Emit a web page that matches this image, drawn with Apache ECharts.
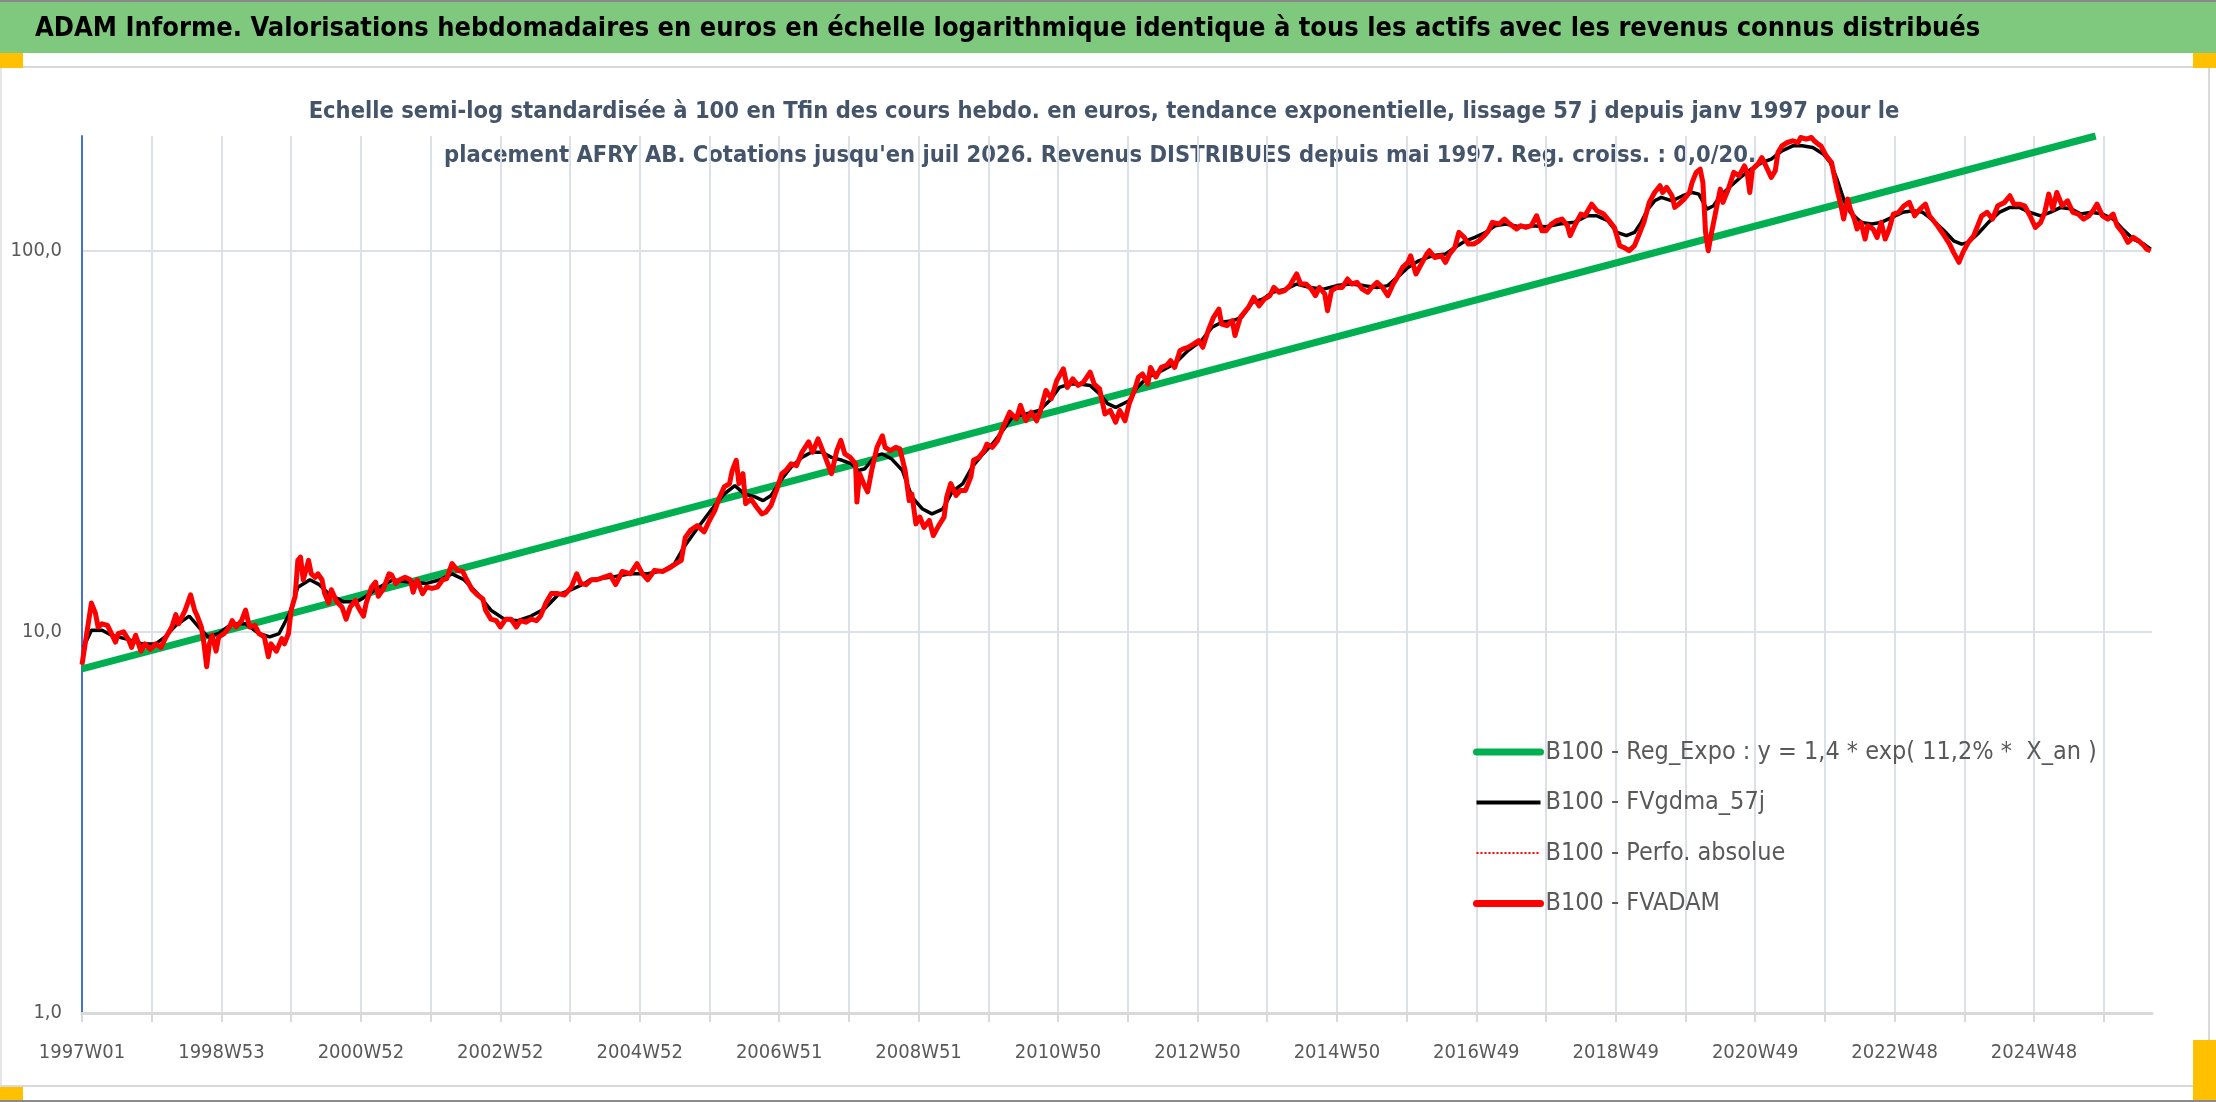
<!DOCTYPE html>
<html>
<head>
<meta charset="utf-8">
<title>ADAM Informe - AFRY AB</title>
<script src="https://cdn.jsdelivr.net/npm/echarts@6/dist/echarts.min.js"></script>
<style>
  html, body { margin: 0; padding: 0; background: #fff; }
  #chart { width: 2216px; height: 1102px; }
</style>
</head>
<body>
<div id="chart"></div>
<script>
var FONT = "'Liberation Sans Narrow', 'DejaVu Sans Condensed', 'Liberation Sans', sans-serif";

var TITLE = "ADAM Informe. Valorisations hebdomadaires en euros en échelle logarithmique identique à tous les actifs avec les revenus connus distribués";
var SUBTITLE_1 = "Echelle semi-log standardisée à 100 en Tfin des cours hebdo. en euros, tendance exponentielle, lissage 57 j depuis janv 1997 pour le";
var SUBTITLE_2 = "placement AFRY AB. Cotations jusqu'en juil 2026. Revenus DISTRIBUES depuis mai 1997. Reg. croiss. : 0,0/20.";

var NAMES = [
  "B100 - Reg_Expo : y = 1,4 * exp( 11,2% *  X_an )",
  "B100 - FVgdma_57j",
  "B100 - Perfo. absolue",
  "B100 - FVADAM"
];

// x = week index since 1997W01, one label every 104 weeks
var TICK_LABELS = ["1997W01", "1998W53", "2000W52", "2002W52", "2004W52", "2006W51", "2008W51",
  "2010W50", "2012W50", "2014W50", "2016W49", "2018W49", "2020W49", "2022W48", "2024W48"];
var LAST_WEEK = 1544;
var Y_LABELS = [1, 10, 100];

// regression line, read at its two visible ends
var REG_EXPO = [[0, 8.0], [1502, 200]];

// smoothed valuation (black)
var FVGDMA = [
  [1, 9.1], [7, 10.1], [15, 10.1], [22, 9.8], [32, 9.6], [45, 9.3], [55, 9.3], [62, 9.7], [70, 10.4],
  [80, 11.0], [87, 10.3], [94, 9.7], [102, 9.9], [112, 10.5], [122, 10.5], [132, 9.9], [140, 9.7],
  [147, 9.9], [155, 11.2], [161, 13.1], [170, 13.7], [177, 13.3], [185, 12.5], [195, 12.0], [205, 12.0],
  [212, 12.4], [220, 13.0], [232, 13.7], [245, 13.5], [257, 13.4], [267, 13.7], [276, 14.2], [285, 13.7],
  [295, 12.6], [305, 11.4], [315, 10.8], [325, 10.7], [335, 11.0], [345, 11.5], [355, 12.5], [365, 12.9],
  [375, 13.4], [379, 13.7], [394, 13.9], [409, 14.2], [422, 14.2], [434, 14.5], [442, 15.1], [449, 16.7],
  [459, 18.7], [469, 20.8], [479, 23.0], [487, 24.2], [494, 23.0], [502, 22.6], [508, 22.1], [514, 22.8],
  [522, 25.2], [529, 27.1], [537, 28.7], [544, 29.6], [552, 29.6], [559, 28.7], [567, 28.2], [574, 27.6],
  [579, 26.5], [584, 26.8], [592, 29.0], [597, 29.3], [604, 28.4], [612, 26.5], [619, 22.6], [627, 21.0],
  [634, 20.4], [642, 21.0], [649, 23.3], [657, 24.5], [664, 27.1], [672, 29.3], [679, 31.1], [687, 33.8],
  [694, 36.6], [704, 37.3], [714, 38.1], [722, 40.5], [729, 43.8], [737, 44.7], [744, 44.7], [752, 44.3],
  [759, 42.1], [765, 39.7], [771, 38.8], [781, 40.4], [787, 43.8], [795, 46.6], [805, 48.4], [815, 50.5],
  [825, 54.7], [835, 58.1], [843, 63.0], [850, 64.9], [858, 65.5], [865, 66.9], [873, 73.2], [881, 74.7],
  [888, 77.8], [898, 79.3], [906, 81.8], [916, 80.1], [926, 79.3], [936, 81.0], [946, 81.8], [956, 81.0],
  [966, 80.1], [974, 81.0], [981, 85.1], [989, 90.4], [997, 94.1], [1007, 97.0], [1017, 98.0], [1024, 102.0],
  [1032, 106.2], [1039, 108.4], [1047, 111.7], [1054, 116.3], [1062, 117.5], [1072, 115.6], [1082, 116.3],
  [1092, 115.6], [1102, 117.5], [1113, 118.7], [1123, 123.5], [1130, 123.5], [1138, 119.9], [1145, 111.7],
  [1152, 109.5], [1158, 111.7], [1163, 118.7], [1168, 128.6], [1173, 135.2], [1178, 138.0], [1186, 135.2],
  [1194, 139.4], [1201, 142.2], [1206, 140.8], [1212, 128.6], [1217, 131.2], [1222, 139.4], [1230, 148.1],
  [1237, 155.7], [1245, 163.7], [1253, 170.4], [1260, 173.9], [1268, 182.9], [1276, 188.5], [1283, 188.5],
  [1291, 186.6], [1299, 179.2], [1304, 170.4], [1309, 154.1], [1314, 136.6], [1319, 126.1], [1327, 118.7],
  [1335, 117.5], [1342, 118.7], [1350, 122.3], [1358, 126.1], [1366, 127.3], [1373, 126.1], [1381, 119.9],
  [1389, 112.8], [1396, 106.2], [1402, 104.1], [1407, 105.2], [1414, 110.6], [1422, 118.7], [1430, 126.1],
  [1438, 129.9], [1445, 129.9], [1453, 126.1], [1461, 123.5], [1468, 126.1], [1476, 129.9], [1484, 128.6],
  [1491, 124.8], [1499, 126.1], [1507, 124.8], [1515, 121.1], [1522, 114.0], [1530, 107.3], [1538, 104.1],
  [1543, 101.0]
];

// weekly valuation (red), also under the dotted absolute perf
var FVADAM = [
  [0, 8.2], [7, 11.9], [10, 11.2], [12, 10.3], [15, 10.5], [19, 10.4], [22, 9.9], [25, 9.4], [27, 9.9],
  [31, 10.0], [35, 9.5], [37, 9.1], [40, 9.8], [44, 8.9], [47, 9.3], [51, 9.0], [55, 9.3], [59, 9.1],
  [62, 9.6], [67, 10.3], [70, 11.1], [72, 10.5], [77, 11.4], [81, 12.5], [84, 11.4], [86, 11.0], [89, 10.3],
  [91, 9.3], [93, 8.1], [95, 9.3], [97, 9.8], [100, 8.9], [102, 9.7], [106, 9.9], [110, 10.3], [112, 10.7],
  [115, 10.3], [119, 10.7], [122, 11.4], [125, 10.3], [129, 10.4], [132, 9.9], [136, 9.7], [139, 8.6],
  [141, 9.3], [145, 8.9], [149, 9.6], [151, 9.3], [154, 9.9], [156, 11.4], [159, 12.4], [161, 15.4],
  [163, 15.7], [165, 13.7], [167, 14.5], [169, 15.4], [171, 14.2], [174, 13.9], [176, 14.2], [179, 13.7],
  [181, 12.6], [184, 11.9], [186, 12.9], [190, 12.0], [194, 11.6], [197, 10.8], [200, 11.6], [204, 12.1],
  [206, 11.6], [210, 11.0], [212, 11.9], [216, 13.1], [219, 13.5], [221, 12.4], [225, 13.0], [229, 14.2],
  [231, 14.1], [234, 13.4], [237, 13.7], [241, 13.9], [245, 13.7], [247, 12.7], [250, 13.7], [254, 12.6],
  [257, 13.1], [261, 13.0], [265, 13.1], [269, 13.7], [272, 13.8], [276, 15.1], [280, 14.5], [284, 14.4],
  [287, 13.7], [291, 12.9], [295, 12.5], [299, 12.2], [301, 11.4], [305, 10.8], [309, 10.7], [312, 10.3],
  [316, 10.8], [320, 10.8], [324, 10.3], [327, 10.7], [331, 10.6], [335, 10.8], [339, 10.7], [342, 11.0],
  [346, 11.9], [350, 12.6], [355, 12.6], [360, 12.5], [365, 13.1], [369, 14.2], [372, 13.4], [376, 13.3],
  [380, 13.7], [384, 13.7], [389, 13.9], [394, 14.1], [398, 13.3], [403, 14.4], [409, 14.2], [414, 15.1],
  [418, 14.2], [422, 13.7], [427, 14.5], [433, 14.4], [438, 14.7], [443, 15.1], [447, 15.4], [450, 17.7],
  [454, 18.5], [459, 19.0], [464, 18.3], [468, 19.6], [472, 20.8], [475, 22.3], [479, 24.0], [483, 24.5],
  [485, 26.5], [488, 28.2], [490, 24.5], [493, 26.0], [495, 21.7], [499, 22.3], [503, 21.3], [507, 20.4],
  [510, 20.6], [514, 21.5], [518, 23.5], [522, 26.0], [525, 26.5], [529, 27.6], [533, 27.3], [537, 29.6],
  [542, 31.5], [545, 29.6], [549, 32.1], [554, 29.0], [559, 26.0], [563, 29.9], [566, 31.8], [569, 29.3],
  [573, 28.7], [577, 27.6], [578, 21.9], [580, 26.0], [583, 24.5], [586, 23.3], [589, 26.5], [593, 30.5],
  [597, 32.7], [599, 30.5], [603, 29.9], [607, 30.5], [610, 30.2], [614, 26.5], [617, 22.1], [619, 23.0],
  [622, 19.2], [625, 20.0], [628, 18.8], [632, 19.6], [635, 17.9], [639, 19.0], [643, 20.0], [645, 22.6],
  [648, 24.5], [652, 22.8], [655, 23.5], [659, 23.5], [663, 25.5], [665, 28.2], [669, 28.7], [673, 29.9],
  [675, 31.1], [679, 30.5], [683, 31.8], [687, 34.4], [692, 37.7], [697, 36.2], [700, 39.3], [704, 35.8],
  [708, 37.7], [712, 35.8], [715, 38.1], [719, 43.0], [723, 40.9], [727, 45.6], [732, 49.0], [735, 43.8],
  [739, 46.1], [743, 44.3], [747, 45.2], [752, 48.0], [755, 44.7], [759, 43.4], [763, 37.3], [767, 38.1],
  [771, 35.5], [774, 38.1], [778, 35.8], [781, 39.6], [785, 43.0], [788, 46.6], [791, 47.5], [795, 44.7],
  [797, 49.4], [801, 46.6], [805, 49.4], [809, 50.0], [812, 51.5], [815, 49.4], [819, 54.7], [821, 55.2],
  [825, 55.8], [829, 56.9], [833, 58.1], [836, 55.8], [840, 61.7], [844, 66.9], [848, 70.3], [850, 64.2],
  [854, 63.6], [858, 65.5], [860, 59.9], [864, 66.9], [867, 68.9], [870, 71.0], [874, 75.4], [878, 71.7],
  [882, 74.7], [886, 76.2], [889, 80.1], [893, 77.8], [897, 78.6], [901, 81.0], [903, 83.4], [906, 86.9],
  [909, 81.8], [913, 81.8], [917, 79.3], [920, 76.2], [923, 80.1], [927, 77.0], [929, 69.6], [932, 78.6],
  [936, 80.1], [940, 80.1], [944, 84.3], [947, 81.8], [951, 82.6], [955, 79.3], [959, 77.8], [962, 80.1],
  [966, 82.6], [970, 80.1], [974, 76.2], [978, 81.8], [981, 85.1], [985, 90.4], [989, 93.2], [991, 97.0],
  [995, 86.9], [999, 92.3], [1003, 98.0], [1005, 100.0], [1009, 96.0], [1014, 97.0], [1017, 93.2],
  [1020, 98.0], [1024, 102.0], [1027, 111.7], [1031, 108.4], [1034, 104.1], [1038, 104.1], [1042, 106.2],
  [1046, 109.5], [1049, 112.8], [1052, 118.7], [1057, 117.5], [1061, 121.1], [1065, 117.5], [1070, 114.0],
  [1073, 116.3], [1077, 115.1], [1081, 116.3], [1085, 123.5], [1089, 112.8], [1092, 112.8], [1096, 117.5],
  [1100, 119.9], [1104, 121.1], [1108, 116.3], [1110, 109.5], [1114, 117.5], [1118, 124.8], [1121, 123.5],
  [1126, 132.5], [1130, 127.3], [1135, 124.8], [1139, 119.9], [1143, 115.1], [1147, 103.1], [1150, 102.0],
  [1154, 100.0], [1158, 103.1], [1161, 109.5], [1165, 118.7], [1169, 133.9], [1173, 142.2], [1177, 148.1],
  [1179, 142.2], [1182, 146.6], [1186, 139.4], [1188, 129.9], [1191, 132.5], [1195, 136.6], [1199, 142.2],
  [1201, 151.1], [1204, 160.5], [1207, 163.7], [1209, 151.1], [1211, 111.7], [1213, 100.0], [1215, 109.5],
  [1218, 123.5], [1222, 145.1], [1224, 133.9], [1228, 145.1], [1232, 160.5], [1236, 157.3], [1240, 167.0],
  [1242, 160.5], [1244, 142.2], [1246, 163.7], [1250, 168.7], [1253, 175.6], [1256, 167.0], [1260, 155.7],
  [1263, 162.1], [1265, 181.1], [1268, 188.5], [1272, 192.3], [1276, 194.3], [1280, 192.3], [1282, 198.2],
  [1286, 196.2], [1290, 198.2], [1292, 194.3], [1295, 190.4], [1297, 188.5], [1301, 177.4], [1305, 170.4],
  [1309, 145.1], [1312, 131.2], [1314, 121.1], [1317, 136.6], [1319, 128.6], [1322, 121.1], [1324, 114.0],
  [1327, 118.7], [1330, 107.3], [1332, 116.3], [1336, 114.0], [1339, 108.4], [1342, 118.7], [1345, 107.3],
  [1348, 114.0], [1351, 124.8], [1355, 126.1], [1359, 131.2], [1363, 133.9], [1367, 123.5], [1371, 128.6],
  [1375, 132.5], [1378, 123.5], [1384, 116.3], [1389, 109.5], [1393, 104.1], [1396, 99.0], [1400, 93.2],
  [1403, 99.0], [1407, 105.2], [1411, 109.5], [1414, 116.3], [1417, 123.5], [1421, 126.1], [1425, 121.1],
  [1429, 131.2], [1434, 133.9], [1438, 139.4], [1441, 132.5], [1445, 132.5], [1449, 131.2], [1453, 123.5],
  [1457, 115.1], [1461, 118.7], [1464, 126.1], [1467, 140.8], [1470, 128.6], [1473, 142.2], [1477, 131.2],
  [1481, 135.2], [1485, 126.1], [1489, 124.8], [1493, 121.1], [1497, 123.5], [1500, 127.3], [1503, 132.5],
  [1507, 123.5], [1511, 121.1], [1515, 124.8], [1518, 116.3], [1522, 111.7], [1526, 105.2], [1530, 108.4],
  [1534, 106.2], [1538, 103.1], [1540, 101.0], [1543, 100.0]
];

var GREEN = "#00B050", RED = "#FF0000", GRID_COLOR = "#DCE0E7", LABEL_COLOR = "#595959";

function fmtY(v) {
  if (Y_LABELS.indexOf(Math.round(v)) < 0 || Math.abs(v - Math.round(v)) > 1e-6) return "";
  return v.toFixed(1).replace(".", ",");
}

function fmtX(v) {
  if (v % 104 !== 0) return "";
  return TICK_LABELS[v / 104] || "";
}

var chart = echarts.init(document.getElementById("chart"));

chart.setOption({
  animation: false,
  backgroundColor: "#fff",
  graphic: [
    { type: "rect", shape: { x: 0, y: 0, width: 2216, height: 53 }, style: { fill: "#7FC97F" } },
    { type: "rect", shape: { x: 0, y: 0, width: 2216, height: 2 }, style: { fill: "#8A8A8A" } },
    { type: "text", x: 35, y: 29, style: { text: TITLE, fill: "#000", font: "bold 27px " + FONT, verticalAlign: "middle" } },
    { type: "line", shape: { x1: 0, y1: 67, x2: 2209, y2: 67 }, style: { stroke: "#D9D9D9", lineWidth: 2 } },
    { type: "line", shape: { x1: 2209, y1: 67, x2: 2209, y2: 1086 }, style: { stroke: "#D9D9D9", lineWidth: 2 } },
    { type: "line", shape: { x1: 1, y1: 67, x2: 1, y2: 1086 }, style: { stroke: "#E6E6E6", lineWidth: 2 } },
    { type: "line", shape: { x1: 0, y1: 1086, x2: 2209, y2: 1086 }, style: { stroke: "#D9D9D9", lineWidth: 2 } },
    { type: "rect", shape: { x: 0, y: 1100, width: 2216, height: 2 }, style: { fill: "#8A8A8A" } },
    { type: "rect", shape: { x: 0, y: 53, width: 23, height: 15 }, style: { fill: "#FFC000" } },
    { type: "rect", shape: { x: 2193, y: 53, width: 23, height: 15 }, style: { fill: "#FFC000" } },
    { type: "rect", shape: { x: 0, y: 1087, width: 23, height: 13 }, style: { fill: "#FFC000" } },
    { type: "rect", shape: { x: 2193, y: 1040, width: 23, height: 60 }, style: { fill: "#FFC000" } },
    { type: "text", x: 1104, y: 112, style: { text: SUBTITLE_1, fill: "#44546A", font: "bold 23.5px " + FONT, align: "center", verticalAlign: "middle" } },
    { type: "text", x: 1100, y: 156, style: { text: SUBTITLE_2, fill: "#44546A", font: "bold 23.5px " + FONT, align: "center", verticalAlign: "middle" } }
  ],
  grid: { left: 82, right: 64, top: 136, bottom: 89 },
  legend: {
    orient: "vertical", left: 1468, top: 733, itemWidth: 64, itemHeight: 14, itemGap: 22.5,
    selectedMode: false,
    itemStyle: { opacity: 0 },
    textStyle: { fontFamily: FONT, fontSize: 25, color: LABEL_COLOR, lineHeight: 28 },
    data: [
      { name: NAMES[0], lineStyle: { width: 7, cap: "round" } },
      { name: NAMES[1], lineStyle: { width: 4 } },
      { name: NAMES[2], lineStyle: { width: 2, type: "dotted" } },
      { name: NAMES[3], lineStyle: { width: 7, cap: "round" } }
    ]
  },
  xAxis: {
    type: "value", min: 0, max: LAST_WEEK, interval: 52,
    axisLine: { show: true, lineStyle: { color: "#D9D9D9", width: 3 } },
    axisTick: { show: true, length: 9, lineStyle: { color: "#D9D9D9", width: 2 } },
    splitLine: { show: true, showMinLine: false, showMaxLine: false, lineStyle: { color: GRID_COLOR, width: 2 } },
    axisLabel: { formatter: fmtX, margin: 30, fontFamily: FONT, fontSize: 20, color: LABEL_COLOR, showMaxLabel: false }
  },
  yAxis: {
    type: "log", logBase: 10, min: 1, max: 200,
    axisLine: { show: true, lineStyle: { color: "#4472C4", width: 2 } },
    axisTick: { show: false },
    splitLine: { show: true, showMinLine: false, showMaxLine: false, lineStyle: { color: GRID_COLOR, width: 2 } },
    axisLabel: { formatter: fmtY, margin: 20, fontFamily: FONT, fontSize: 20, color: LABEL_COLOR }
  },
  series: [
    { name: NAMES[0], type: "line", data: REG_EXPO, symbol: "none", silent: true,
      lineStyle: { color: GREEN, width: 7 }, itemStyle: { color: GREEN } },
    { name: NAMES[1], type: "line", data: FVGDMA, symbol: "none", silent: true,
      lineStyle: { color: "#000", width: 3.5 }, itemStyle: { color: "#000" } },
    { name: NAMES[2], type: "line", data: FVADAM, symbol: "none", silent: true,
      lineStyle: { color: RED, width: 1.5, type: "dotted" }, itemStyle: { color: RED } },
    { name: NAMES[3], type: "line", data: FVADAM, symbol: "none", silent: true,
      lineStyle: { color: RED, width: 5, join: "round" }, itemStyle: { color: RED } }
  ]
});
</script>
</body>
</html>
